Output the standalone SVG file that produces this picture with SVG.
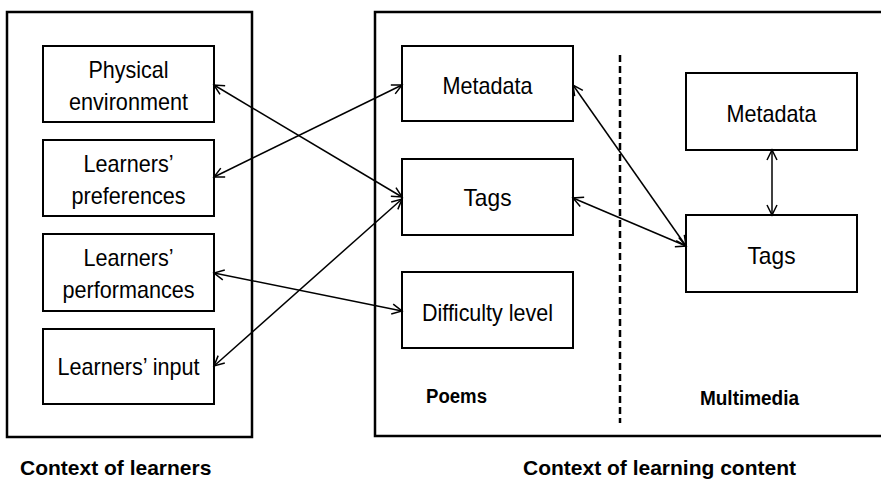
<svg xmlns="http://www.w3.org/2000/svg" width="881" height="481" viewBox="0 0 881 481">
<style>
.outer{fill:none;stroke:#000;stroke-width:2.5}
.box{fill:#fff;stroke:#000;stroke-width:2}
.lbl{font-family:"Liberation Sans",Arial,sans-serif;font-size:24px;text-anchor:middle;fill:#000}
.bold{font-family:"Liberation Sans",Arial,sans-serif;font-weight:bold;fill:#000}
.conn{stroke:#000;stroke-width:1.5;fill:none;marker-start:url(#ah);marker-end:url(#ah)}
</style>
<defs>
<marker id="ah" markerUnits="userSpaceOnUse" markerWidth="14" markerHeight="14" refX="11" refY="6" orient="auto-start-reverse" viewBox="0 0 14 12">
<path d="M1,1 L11,6 L1,11" fill="none" stroke="#000" stroke-width="1.5"/>
</marker>
</defs>
<rect width="881" height="481" fill="#fff"/>
<g id="context-learners">
<rect class="outer" x="7" y="12" width="245" height="425"/>
<text class="bold" x="20" y="475" font-size="21">Context of learners</text>
</g>
<g id="context-content">
<rect class="outer" x="375" y="12" width="520" height="424"/>
<line x1="620" y1="55" x2="620" y2="423" stroke="#000" stroke-width="2.5" stroke-dasharray="7,4"/>
<text class="bold" x="426" y="403" font-size="20" textLength="61" lengthAdjust="spacingAndGlyphs">Poems</text>
<text class="bold" x="700" y="405" font-size="20" textLength="99" lengthAdjust="spacingAndGlyphs">Multimedia</text>
<text class="bold" x="523" y="475" font-size="21">Context of learning content</text>
</g>
<g id="physical-environment">
<rect class="box" x="43" y="46" width="171" height="76"/>
<text class="lbl" x="128.5" y="78" textLength="80" lengthAdjust="spacingAndGlyphs">Physical</text>
<text class="lbl" x="128.5" y="110" textLength="119" lengthAdjust="spacingAndGlyphs">environment</text>
</g>
<g id="learners-preferences">
<rect class="box" x="43" y="140" width="171" height="76"/>
<text class="lbl" x="128.5" y="172" textLength="90" lengthAdjust="spacingAndGlyphs">Learners’</text>
<text class="lbl" x="128.5" y="204" textLength="114" lengthAdjust="spacingAndGlyphs">preferences</text>
</g>
<g id="learners-performances">
<rect class="box" x="43" y="234" width="171" height="77"/>
<text class="lbl" x="128.5" y="266" textLength="90" lengthAdjust="spacingAndGlyphs">Learners’</text>
<text class="lbl" x="128.5" y="298" textLength="132" lengthAdjust="spacingAndGlyphs">performances</text>
</g>
<g id="learners-input">
<rect class="box" x="43" y="329" width="171" height="75"/>
<text class="lbl" x="128.5" y="375" textLength="142" lengthAdjust="spacingAndGlyphs">Learners’ input</text>
</g>
<g id="poems-metadata">
<rect class="box" x="402" y="46" width="171" height="75"/>
<text class="lbl" x="487.5" y="94" textLength="90" lengthAdjust="spacingAndGlyphs">Metadata</text>
</g>
<g id="poems-tags">
<rect class="box" x="402" y="159" width="171" height="76"/>
<text class="lbl" x="487.5" y="206" textLength="48" lengthAdjust="spacingAndGlyphs">Tags</text>
</g>
<g id="poems-difficulty">
<rect class="box" x="402" y="272" width="171" height="76"/>
<text class="lbl" x="487.5" y="321" textLength="131" lengthAdjust="spacingAndGlyphs">Difficulty level</text>
</g>
<g id="mm-metadata">
<rect class="box" x="686" y="73" width="171" height="77"/>
<text class="lbl" x="771.5" y="122" textLength="90" lengthAdjust="spacingAndGlyphs">Metadata</text>
</g>
<g id="mm-tags">
<rect class="box" x="686" y="215" width="171" height="77"/>
<text class="lbl" x="771.5" y="264" textLength="48" lengthAdjust="spacingAndGlyphs">Tags</text>
</g>
<g id="connectors">
<line class="conn" x1="214" y1="85" x2="402" y2="197"/>
<line class="conn" x1="214" y1="177" x2="402" y2="85"/>
<line class="conn" x1="214" y1="273" x2="402" y2="311"/>
<line class="conn" x1="214" y1="366" x2="402" y2="199"/>
<line class="conn" x1="573" y1="85" x2="686" y2="246"/>
<line class="conn" x1="573" y1="198" x2="686" y2="246"/>
<line class="conn" x1="772" y1="150" x2="772" y2="215"/>
</g>
</svg>
